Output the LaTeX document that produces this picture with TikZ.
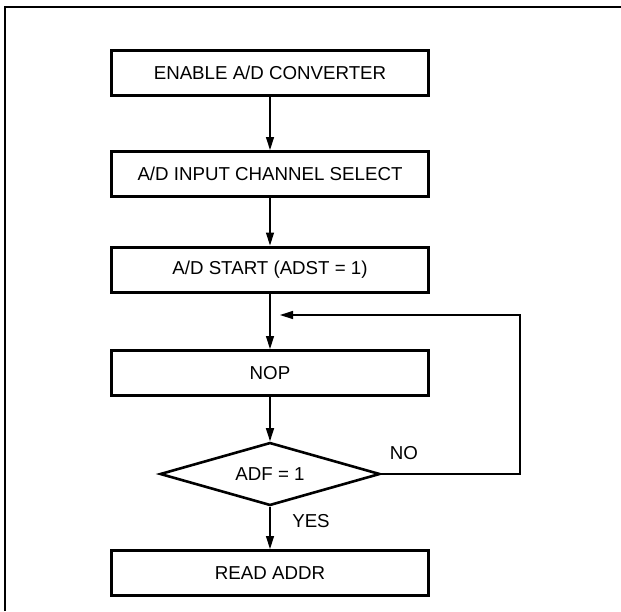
\documentclass[tikz,border=0pt]{standalone}
\usepackage{fontspec}
\setmainfont{Liberation Sans}
\usepackage{tikz}
\usetikzlibrary{shapes.geometric}
\usetikzlibrary{arrows.meta}

\begin{document}
\begin{tikzpicture}[x=1pt, y=-1pt,
    every node/.style={font=\fontsize{18.7}{21}\selectfont},
    stepbox/.style={rectangle, draw, line width=3pt, minimum width=317pt, minimum height=45pt, inner sep=0pt},
    testbox/.style={diamond, draw, line width=2.6pt, aspect=3.5, minimum width=220pt, minimum height=63pt, inner sep=0pt},
    flow/.style={line width=1.3pt, -{Triangle[length=13pt, width=8pt]}}]

        \useasboundingbox (0, 0) rectangle (621, 611);

        \def\cx{270} % x of the main column

        % page frame (top and left edges only)
        \draw[line width=1.2pt] (5, 611) -- (5, 7) -- (621, 7);

        \node[stepbox] (enable) at (\cx, 72.5) {ENABLE A/D CONVERTER};
        \node[stepbox] (select) at (\cx, 174) {A/D INPUT CHANNEL SELECT};
        \node[stepbox] (start) at (\cx, 269.5) {A/D START (ADST = 1)};
        \node[stepbox] (nop) at (\cx, 373) {NOP};
        \node[testbox] (adf) at (\cx, 474) {ADF = 1};
        \node[stepbox] (read) at (\cx, 573) {READ ADDR};

        \coordinate (back) at (520, 315);
        \coordinate (loop) at (280, 315);

        \draw[flow] (enable) -- (select);
        \draw[flow] (select) -- (start);
        \draw[flow] (start) -- (nop);
        \draw[flow] (nop) -- (adf);
        \draw[flow] (adf) -- (read);
        \draw[flow] (adf.east) -| (back) -- (loop);

        \node (no) at (404, 453) {NO};
        \node (yes) at (311, 521) {YES};

      \end{tikzpicture}
\end{document}
